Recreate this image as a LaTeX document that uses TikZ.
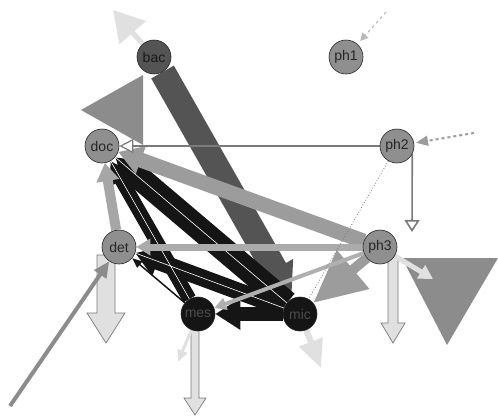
\documentclass[tikz,border=0pt]{standalone}
\usepackage{fontspec}
\setmainfont{Liberation Sans}
\usetikzlibrary{arrows.meta,calc}
\definecolor{cbac}{HTML}{545454}
\definecolor{cgray}{HTML}{8C8C8C}
\definecolor{cnode}{HTML}{8F8F8F}
\definecolor{cband}{HTML}{9C9C9C}
\definecolor{cblack}{HTML}{151515}
\definecolor{clight}{HTML}{E0E0E0}
\definecolor{cline}{HTML}{7A7A7A}
\pgfdeclarelayer{bg}
\pgfdeclarelayer{edges}
\pgfsetlayers{bg,edges,main}
\begin{document}
\begin{tikzpicture}[x=1pt,y=-1pt,
  nd/.style={circle, draw=black!85, line width=0.6pt, minimum size=34pt, inner sep=0pt,
             fill=cnode, text=black!85, font=\fontsize{14}{14}\selectfont},
  dk/.style={nd, fill=cblack, text=black!70},
  band/.style={line width=#1},
  exportbox/.style={draw=cline, fill=clight, line width=0.7pt},
  openhead/.style={-{Triangle[open, fill=white, width=#1, length=#1]}}
]
\useasboundingbox (0,0) rectangle (498,416);
\begin{pgfonlayer}{bg}
\fill[white] (0,0) rectangle (498,416);
\end{pgfonlayer}

\node[nd, fill=cbac, text=black!90] (bac) at (154,57) {bac};
\node[nd] (ph1) at (346,57) {ph1};
\node[nd] (doc) at (102,146) {doc};
\node[nd] (ph2) at (397,146) {ph2};
\node[nd] (det) at (119,247) {det};
\node[nd] (ph3) at (380,247) {ph3};
\node[dk] (mes) at (198,314) {mes};
\node[dk] (mic) at (300,314) {mic};

\coordinate (eBac) at (113,10);
\coordinate (ePh3) at (433,279);
\coordinate (eMes) at (178,362);
\coordinate (eMic) at (321,368);
\coordinate (iPh1) at (386,12);
\coordinate (iPh2) at (474,133);
\coordinate (iDet) at (10,406);

\begin{pgfonlayer}{edges}
% large flow triangles
\fill[cgray] (143,75) -- (81,110) -- (143,145) -- cycle;
\fill[cgray] (402,258) -- (498,258) -- (447,345) -- cycle;

% bac export
\draw[clight, band=5pt, -{Triangle[width=34pt,length=30pt]}] (bac) -- (eBac);

% bac -> mic
\draw[cbac, band=26pt, -{Triangle[width=40pt,length=34pt]}] (bac) -- (mic);

% black bands
\draw[cblack, band=24pt, -{Triangle[width=36pt,length=30pt]}] (mic) -- (doc);
\draw[cblack, band=14pt, -{Triangle[width=26pt,length=22pt]}] (mes) -- (doc);
\draw[cblack, band=17pt, -{Triangle[width=30pt,length=24pt]}] (mic) -- (det);
\draw[cblack, band=14pt, -{Triangle[width=30pt,length=25pt]}] (mic) -- (mes);
\draw[cblack, band=1.5pt, -{Triangle[width=8pt,length=10pt]}] (mes) -- (det);

% thin light flows
\draw[white, line width=0.6pt] (doc) -- (mic);
\draw[white, line width=0.6pt] (doc) -- (mes);
\draw[white, line width=0.6pt] (det) -- (mic);

% grey bands
\draw[cband, band=15pt, -{Triangle[width=28pt,length=24pt]}] (ph3) -- (doc);
\draw[cband, band=10pt, -{Triangle[width=48pt,length=52pt]}] (ph3) -- (mic);
\draw[cband!85, band=7pt, -{Triangle[width=16pt,length=14pt]}] (ph3) -- (det);
\draw[cband!80, band=4pt, -{Triangle[width=12pt,length=12pt]}] (ph3) -- (mes);
\draw[cband!90, band=10pt, -{Triangle[width=22pt,length=18pt]}] (det) -- (doc);

% ph2 flows
\draw[cline, line width=1.2pt, openhead=14pt] (ph2) -- (doc);
\draw[cline, dotted, line width=0.8pt] (ph2) -- (mic);
\draw[cline, line width=1.6pt, -{Triangle[open, fill=white, width=15pt, length=12pt]}]
  (ph2.-28) -- ([shift={(15,86)}]ph2.center);

% exports drawn as outlined arrows
\draw[exportbox] ([shift={(-22,8)}]det.center) -- ++(0,58) -- ++(-10,0) -- ++(19,30)
  -- ++(19,-30) -- ++(-10,0) -- ++(0,-58) -- cycle;
\draw[exportbox] ([shift={(8,10)}]ph3.center) -- ++(0,66) -- ++(-7,0) -- ++(12,20)
  -- ++(12,-20) -- ++(-7,0) -- ++(0,-66) -- cycle;
\draw[exportbox] ([shift={(-7,14)}]mes.center) -- ++(0,70) -- ++(-7,0) -- ++(11,17)
  -- ++(11,-17) -- ++(-7,0) -- ++(0,-70) -- cycle;

% small light exports
\draw[clight, band=5pt, -{Triangle[width=15pt,length=14pt]}] (ph3) -- (ePh3);
\draw[clight, band=3pt, -{Triangle[width=10pt,length=12pt]}] (mes) -- (eMes);
\draw[clight, band=6pt, -{Triangle[width=24pt,length=28pt]}] (mic) -- (eMic);

% imports
\draw[cband!70, line width=1pt, dashed, -{Triangle[width=8pt,length=8pt]}, shorten >=4pt] (iPh1) -- (ph1);
\draw[cband, line width=2pt, dashed, -{Triangle[width=10pt,length=12pt]}, shorten >=2pt] (iPh2) -- (ph2);
\draw[cgray, band=4pt, -{Triangle[width=14pt,length=16pt]}] (iDet) -- (det);
\end{pgfonlayer}
\end{tikzpicture}
\end{document}
